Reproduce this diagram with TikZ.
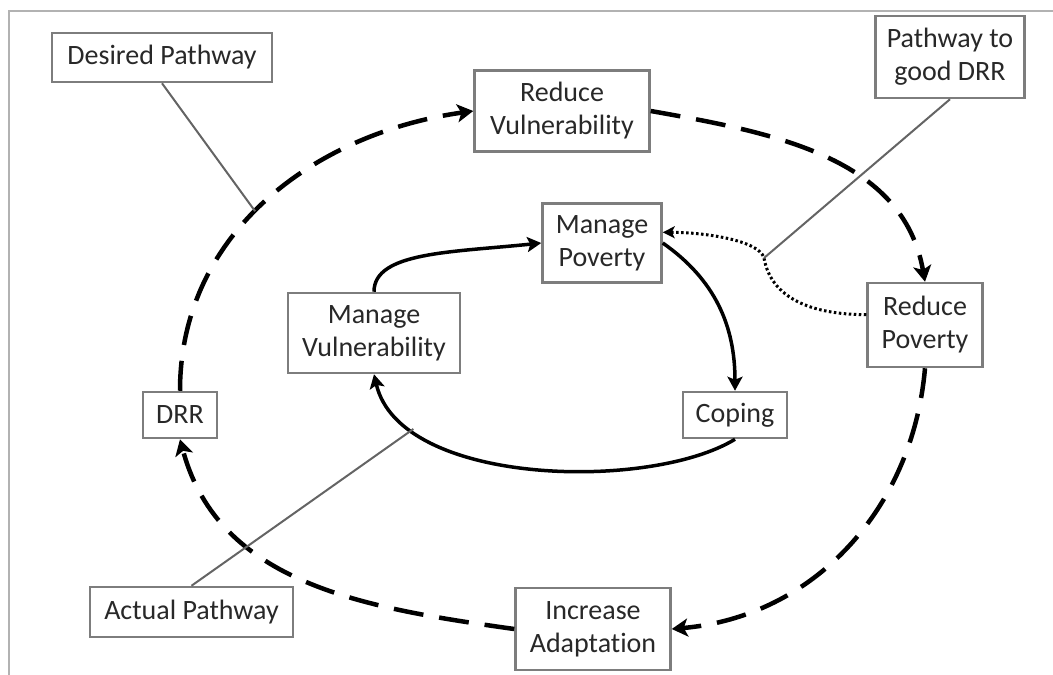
\documentclass[tikz,border=0pt]{standalone}
\usepackage{fontspec}
\setmainfont{Carlito}[Ligatures=NoCommon]
\usetikzlibrary{arrows.meta}
\definecolor{boxline}{RGB}{125,125,125}
\definecolor{framegray}{RGB}{178,178,178}
\definecolor{leadgray}{RGB}{100,100,100}
\definecolor{inktext}{RGB}{40,40,40}
\begin{document}
\begin{tikzpicture}[x=1pt,y=-1pt,
  box/.style={draw=boxline, line width=2.5pt, fill=white, align=center,
    inner sep=0pt, text=inktext, font=\fontsize{28}{33}\selectfont},
  dashloop/.style={line width=4.5pt, black, dash pattern=on 30pt off 16pt,
    -{Stealth[length=16pt,width=18pt,inset=4pt]}},
  solidloop/.style={line width=3.5pt, black,
    -{Stealth[length=14pt,width=15pt,inset=3pt]}},
  dotlink/.style={line width=3pt, black, dash pattern=on 2.5pt off 2.5pt,
    -{Stealth[length=12pt,width=12pt,inset=3pt]}},
  leader/.style={line width=2pt, leadgray}]

\useasboundingbox (0,0) rectangle (1053,675);

% outer frame
\draw[framegray, line width=2pt] (9,675) -- (9,11) -- (1053,11);

% boxes
\node[box, minimum width=220pt, minimum height=49pt] (desired) at (162,57.5) {Desired Pathway};
\node[box, minimum width=175pt, minimum height=81pt] (redvul) at (562,111) {Reduce\\Vulnerability};
\node[box, minimum width=149pt, minimum height=82pt] (pathgood) at (950,57) {Pathway to\\good DRR};
\node[box, minimum width=119pt, minimum height=79pt] (manpov) at (602,243) {Manage\\Poverty};
\node[box, minimum width=115pt, minimum height=84pt] (redpov) at (925,325) {Reduce\\Poverty};
\node[box, minimum width=172pt, minimum height=80pt] (manvul) at (374,333) {Manage\\Vulnerability};
\node[box, minimum width=74pt, minimum height=46pt] (drr) at (180,415) {DRR};
\node[box, minimum width=104pt, minimum height=46pt] (coping) at (735,415) {Coping};
\node[box, minimum width=203pt, minimum height=50pt] (actual) at (191.5,612) {Actual Pathway};
\node[box, minimum width=155pt, minimum height=82pt] (incadapt) at (593,629) {Increase\\Adaptation};

% outer dashed cycle
\draw[dashloop] (drr.north) to[out=90, in=188] coordinate[pos=0.46] (dpx) (redvul.west);
\draw[dashloop] (redvul.east) to[out=-10, in=100] (redpov.north);
\draw[dashloop] (redpov.south) to[out=-95, in=5] (incadapt.east);
\draw[dashloop] (incadapt.west) to[out=172, in=-75] (drr.south);

% inner solid cycle
\draw[solidloop] (manvul.north) to[out=90, in=186, out distance=40pt, in distance=90pt] (manpov.west);
\draw[solidloop] (manpov.east) to[out=-35, in=90] (coping.north);
\draw[solidloop] (coping.south) .. controls +(-85,52) and +(26,112) .. (manvul.south)
  coordinate[pos=0.8] (apx);

% dotted link
\coordinate (dotbend) at (764,258);
\draw[dotlink] (redpov.170) to[out=180, in=-80] (dotbend)
  .. controls +(-5,-18) and +(40,0) .. (manpov.10);

% leader lines
\draw[leader] (desired.south) -- (dpx);
\draw[leader] (pathgood.south) -- (dotbend);
\draw[leader] (actual.north) -- (apx);
\end{tikzpicture}
\end{document}
